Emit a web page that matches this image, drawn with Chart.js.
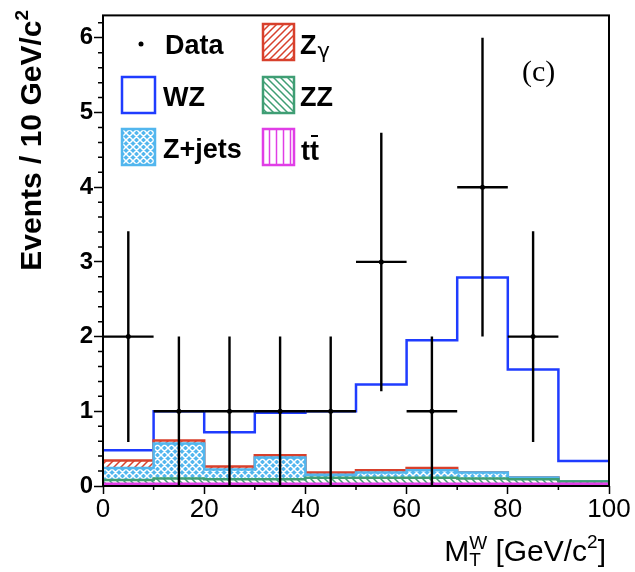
<!DOCTYPE html>
<html>
<head>
<meta charset="utf-8">
<script src="https://cdn.jsdelivr.net/npm/chart.js@4.4.1/dist/chart.umd.min.js"></script>
<style>
  html, body { margin: 0; padding: 0; background: #fff; }
  #wrap { position: relative; width: 635px; height: 572px; }
</style>
</head>
<body>
<div id="wrap"><canvas id="chart" width="635" height="572"></canvas></div>
<script>
// M_T^W bins, GeV/c^2
const binEdges = [0, 10, 20, 30, 40, 50, 60, 70, 80, 90, 100];

// expected events per bin, stacked bottom -> top
const ttbar  = [0.03, 0.03, 0.03, 0.03, 0.03, 0.03, 0.03, 0.03, 0.03, 0.03];
const zz     = [0.05, 0.07, 0.06, 0.06, 0.08, 0.08, 0.08, 0.07, 0.06, 0.03];
const zjets  = [0.16, 0.47, 0.13, 0.29, 0.04, 0.07, 0.10, 0.08, 0.025, 0.0];
const zgamma = [0.10, 0.04, 0.04, 0.03, 0.03, 0.03, 0.03, 0.0, 0.0, 0.0];
const wz     = [0.14, 0.39, 0.46, 0.57, 0.82, 1.15, 1.71, 2.61, 1.445, 0.275];

// observed data
const dataCenters = [5, 15, 25, 35, 45, 55, 65, 75, 85];
const dataCounts  = [2, 1, 1, 1, 1, 3, 1, 4, 2];
const dataErrors  = [1.41, 1, 1, 1, 1, 1.73, 1, 2, 1.41];

const xTicks = [0, 20, 40, 60, 80, 100];
const yTicks = [0, 1, 2, 3, 4, 5, 6];

const BLUE = '#1f3cff';
const RED = '#d8402c';
const GREEN = '#3f9e74';
const LBLUE = '#52b6ee';
const MAGENTA = '#e03ee6';

// hatch patterns like ROOT fill styles
function makePattern(kind, color) {
  const s = 7;
  const c = document.createElement('canvas');
  c.width = s; c.height = s;
  const g = c.getContext('2d');
  g.fillStyle = kind === 'cross' ? color : '#fff';
  g.fillRect(0, 0, s, s);
  g.strokeStyle = kind === 'cross' ? '#fff' : color;
  g.lineWidth = 1.5;
  g.beginPath();
  if (kind === 'fwd' || kind === 'cross') {
    g.moveTo(-1, s + 1); g.lineTo(s + 1, -1);
    g.moveTo(-s / 2 - 1, s / 2 + 1); g.lineTo(s / 2 + 1, -s / 2 - 1);
    g.moveTo(s / 2 - 1, s * 1.5 + 1); g.lineTo(s * 1.5 + 1, s / 2 - 1);
  }
  if (kind === 'back' || kind === 'cross') {
    g.moveTo(-1, -1); g.lineTo(s + 1, s + 1);
    g.moveTo(-s / 2 - 1, s / 2 - 1); g.lineTo(s / 2 + 1, s * 1.5 + 1);
    g.moveTo(s / 2 - 1, -s / 2 - 1); g.lineTo(s * 1.5 + 1, s / 2 + 1);
  }
  if (kind === 'vert') {
    g.moveTo(3.5, 0); g.lineTo(3.5, s);
  }
  g.stroke();
  return g.createPattern(c, 'repeat');
}

const patZg = makePattern('fwd', RED);
const patZZ = makePattern('back', GREEN);
const patZj = makePattern('cross', LBLUE);
const patTT = makePattern('vert', MAGENTA);

// cumulative stack
const layers = [ttbar, zz, zjets, zgamma, wz];
let running = ttbar.map(() => 0);
const cumulative = layers.map(vals => {
  running = running.map((r, i) => r + vals[i]);
  return running;
});

// one point per bin edge, last bin repeated at the upper edge
function steps(vals) {
  return binEdges.map((x, i) => ({ x: x, y: vals[Math.min(i, vals.length - 1)] }));
}

function histSet(label, vals, color, pattern, fill, order) {
  return {
    label: label,
    data: steps(vals),
    stepped: true,
    borderColor: color,
    borderWidth: 2.5,
    backgroundColor: pattern || 'rgba(0,0,0,0)',
    fill: fill,
    pointRadius: 0,
    order: order
  };
}

const frameAndExtras = {
  id: 'frameAndExtras',
  afterDatasetsDraw(chart) {
    const { ctx, chartArea: a, scales: { x, y } } = chart;
    ctx.save();
    // data error bars
    const halfBin = (binEdges[1] - binEdges[0]) / 2;
    ctx.strokeStyle = '#000';
    ctx.lineWidth = 2.4;
    dataCounts.forEach((n, i) => {
      const cx = x.getPixelForValue(dataCenters[i]);
      const cy = y.getPixelForValue(n);
      ctx.beginPath();
      ctx.moveTo(x.getPixelForValue(dataCenters[i] - halfBin), cy);
      ctx.lineTo(x.getPixelForValue(dataCenters[i] + halfBin), cy);
      ctx.moveTo(cx, y.getPixelForValue(Math.max(0, n - dataErrors[i])));
      ctx.lineTo(cx, y.getPixelForValue(n + dataErrors[i]));
      ctx.stroke();
    });
    // minor ticks
    ctx.lineWidth = 1.5;
    ctx.beginPath();
    for (let v = 0.2; v < 6.3; v += 0.2) {
      if (Math.abs(v - Math.round(v)) < 0.01) continue;
      const py = y.getPixelForValue(v);
      ctx.moveTo(a.left - 5, py); ctx.lineTo(a.left, py);
    }
    for (let v = 10; v < 100; v += 20) {
      const px = x.getPixelForValue(v);
      ctx.moveTo(px, a.bottom); ctx.lineTo(px, a.bottom + 4);
    }
    ctx.stroke();
    // frame
    ctx.lineWidth = 2;
    ctx.strokeRect(a.left, a.top, a.right - a.left, a.bottom - a.top);
    ctx.restore();
  },
  afterDraw(chart) {
    const { ctx } = chart;
    ctx.save();
    ctx.fillStyle = '#000';
    // legend
    const box = (bx, by, w, h, fill, stroke) => {
      if (fill) { ctx.fillStyle = fill; ctx.fillRect(bx, by, w, h); }
      ctx.strokeStyle = stroke; ctx.lineWidth = 2.5;
      ctx.strokeRect(bx, by, w, h);
    };
    box(122, 77, 33, 36, null, BLUE);
    box(122, 129, 33, 36, patZj, LBLUE);
    box(263, 24, 31, 36, patZg, RED);
    box(263, 77, 31, 36, patZZ, GREEN);
    box(263, 129, 31, 36, patTT, MAGENTA);
    ctx.fillStyle = '#000';
    ctx.beginPath(); ctx.arc(141, 44, 2.5, 0, Math.PI * 2); ctx.fill();
    ctx.font = 'bold 27px "Liberation Sans", Arial, sans-serif';
    ctx.textBaseline = 'alphabetic';
    ctx.textAlign = 'left';
    ctx.fillText('Data', 165, 54);
    ctx.fillText('WZ', 163, 106);
    ctx.fillText('Z+jets', 163, 158);
    ctx.fillText('Z', 300, 54);
    const zw = ctx.measureText('Z').width;
    ctx.fillText('ZZ', 300, 106);
    ctx.fillText('tt', 301, 160);
    const tw = ctx.measureText('t').width;
    ctx.font = '21px "DejaVu Sans", sans-serif';
    ctx.fillText('γ', 300 + zw + 1, 58);
    ctx.lineWidth = 2;
    ctx.strokeStyle = '#000';
    ctx.beginPath(); ctx.moveTo(301 + tw + 1, 136); ctx.lineTo(301 + 2 * tw - 1, 136); ctx.stroke();
    // panel tag
    ctx.font = '30px "Liberation Serif", serif';
    ctx.fillText('(c)', 522, 81);

    // y title
    ctx.save();
    ctx.translate(41, 10);
    ctx.rotate(-Math.PI / 2);
    ctx.font = 'bold 30px "Liberation Sans", Arial, sans-serif';
    const mainY = 'Events / 10 GeV/c';
    const wMain = ctx.measureText(mainY).width;
    ctx.font = 'bold 19px "Liberation Sans", Arial, sans-serif';
    const wSup = ctx.measureText('2').width;
    ctx.textAlign = 'left';
    ctx.fillText('2', -wSup, -13);
    ctx.font = 'bold 30px "Liberation Sans", Arial, sans-serif';
    ctx.fillText(mainY, -wSup - wMain, 0);
    ctx.restore();

    // x title: M_T^W [GeV/c^2]
    const base = 561;
    ctx.font = '30px "Liberation Sans", Arial, sans-serif';
    const p1 = 'M';
    const p2 = ' [GeV/c';
    const p3 = ']';
    const wM = ctx.measureText(p1).width;
    const w2 = ctx.measureText(p2).width;
    const w3 = ctx.measureText(p3).width;
    ctx.font = '19px "Liberation Sans", Arial, sans-serif';
    const wW = ctx.measureText('W').width;
    const wS = ctx.measureText('2').width;
    const total = wM + wW + w2 + wS + w3;
    let px = 606 - total;
    ctx.font = '30px "Liberation Sans", Arial, sans-serif';
    ctx.fillText(p1, px, base);
    px += wM;
    ctx.font = '19px "Liberation Sans", Arial, sans-serif';
    ctx.fillText('W', px, base - 12);
    ctx.fillText('T', px, base + 5);
    px += wW;
    ctx.font = '30px "Liberation Sans", Arial, sans-serif';
    ctx.fillText(p2, px, base);
    px += w2;
    ctx.font = '19px "Liberation Sans", Arial, sans-serif';
    ctx.fillText('2', px, base - 13);
    px += wS;
    ctx.font = '30px "Liberation Sans", Arial, sans-serif';
    ctx.fillText(p3, px, base);
    ctx.restore();
  }
};

new Chart(document.getElementById('chart'), {
  type: 'line',
  data: {
    datasets: [
      histSet('tt', cumulative[0], MAGENTA, patTT, 'origin', 1),
      histSet('ZZ', cumulative[1], GREEN, patZZ, '-1', 2),
      histSet('Z+jets', cumulative[2], LBLUE, patZj, '-1', 3),
      histSet('Zγ', cumulative[3], RED, patZg, '-1', 4),
      histSet('WZ', cumulative[4], BLUE, null, false, 5),
      {
        type: 'scatter',
        label: 'Data',
        data: dataCenters.map((c, i) => ({ x: c, y: dataCounts[i] })),
        pointRadius: 2.5,
        pointBackgroundColor: '#000',
        pointBorderWidth: 0,
        order: 0
      }
    ]
  },
  options: {
    responsive: false,
    animation: false,
    events: [],
    layout: { padding: { left: 0, top: 11, right: 26, bottom: 0 } },
    plugins: { legend: { display: false }, tooltip: { enabled: false } },
    scales: {
      x: {
        type: 'linear',
        min: 0,
        max: 100,
        afterFit: s => { s.height = 86; },
        afterBuildTicks: s => { s.ticks = xTicks.map(v => ({ value: v })); },
        ticks: {
          color: '#000',
          padding: 0,
          font: { family: '"Liberation Sans", Arial, sans-serif', size: 26 },
          maxRotation: 0,
          autoSkip: false
        },
        grid: { drawOnChartArea: false, tickLength: 8, tickColor: '#000', tickWidth: 1.5 },
        border: { display: false }
      },
      y: {
        min: 0,
        max: 6.3,
        afterFit: s => { s.width = 103; },
        afterBuildTicks: s => { s.ticks = yTicks.map(v => ({ value: v })); },
        ticks: {
          color: '#000',
          padding: 1,
          font: { family: '"Liberation Sans", Arial, sans-serif', size: 24, weight: 'bold' },
          autoSkip: false
        },
        grid: { drawOnChartArea: false, tickLength: 9, tickColor: '#000', tickWidth: 1.5 },
        border: { display: false }
      }
    }
  },
  plugins: [frameAndExtras]
});
</script>
</body>
</html>
